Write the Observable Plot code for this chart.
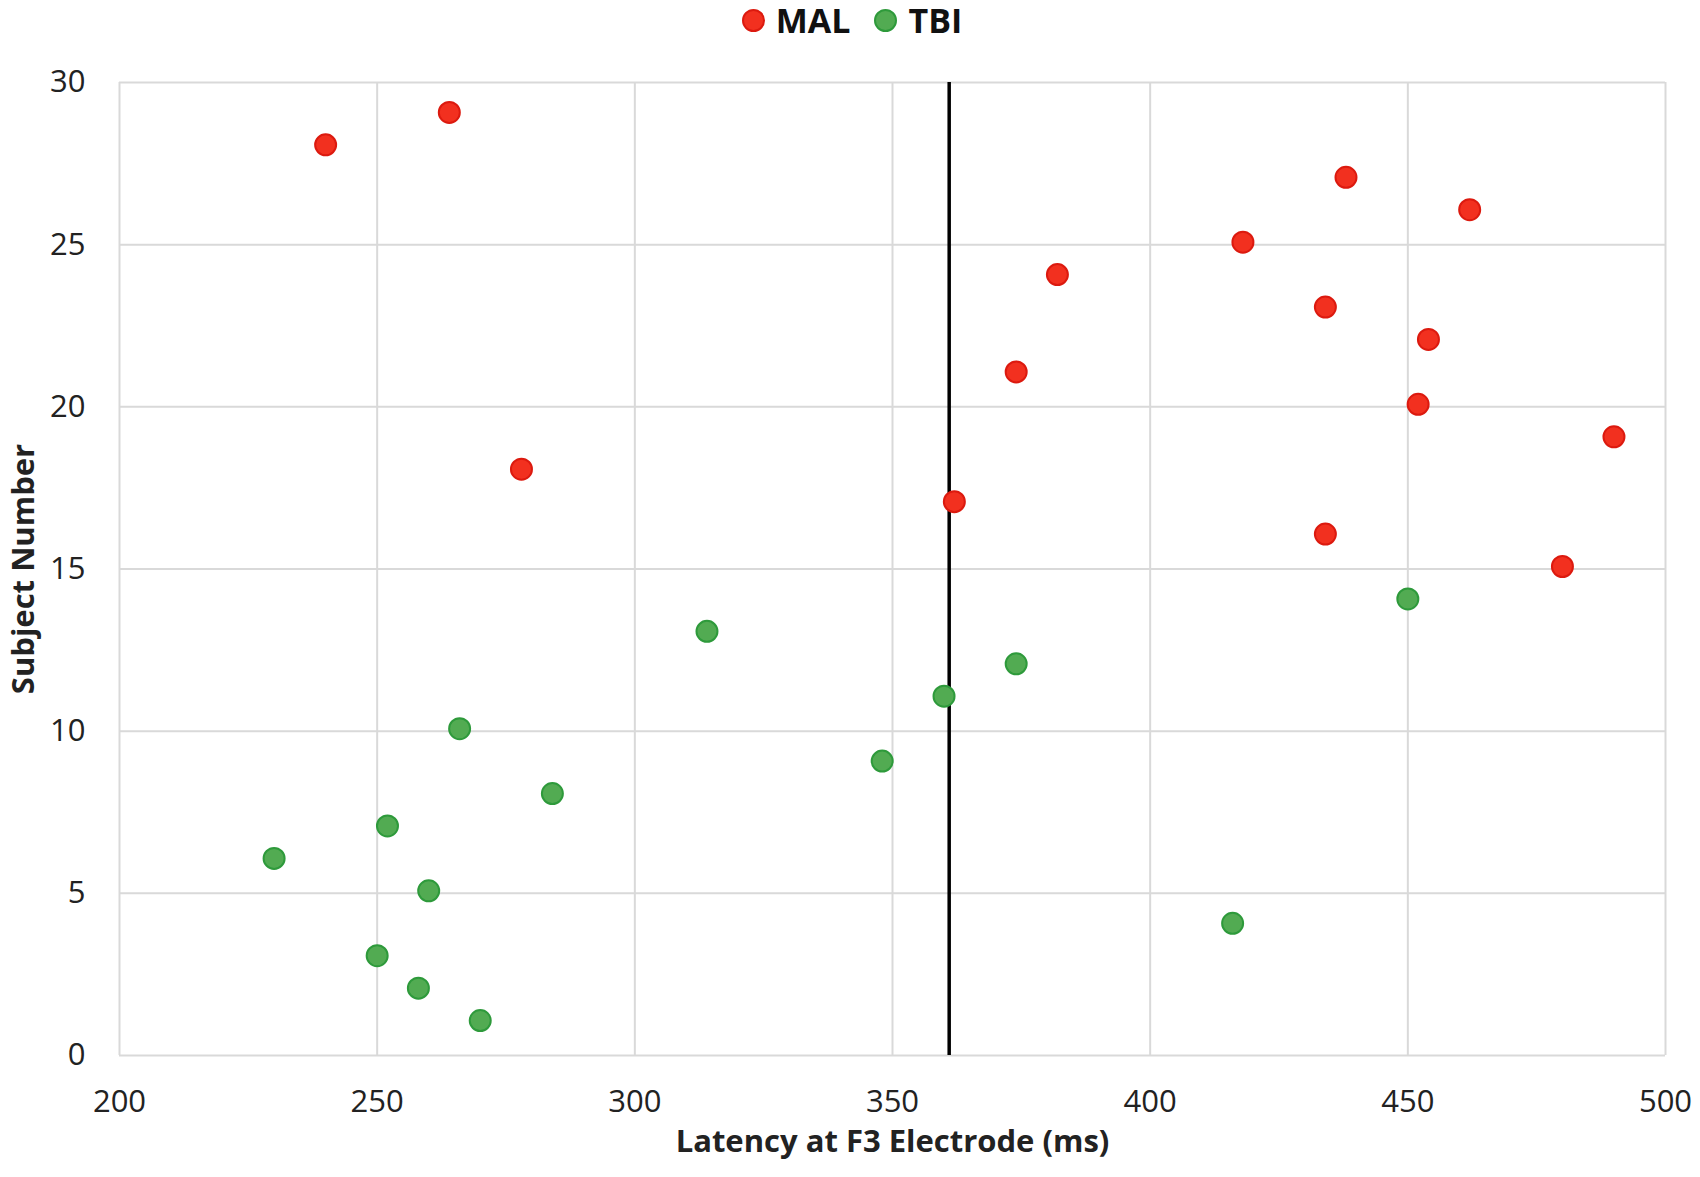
<!DOCTYPE html>
<html>
<head>
<meta charset="utf-8">
<script src="https://cdn.jsdelivr.net/npm/d3@7"></script>
<script src="https://cdn.jsdelivr.net/npm/@observablehq/plot@0.6"></script>
<style>
  body { margin: 0; background: #fff; font-family: "Open Sans", sans-serif; }
  #legend { height: 40px; display: flex; justify-content: center; align-items: center; font-weight: bold; font-size: 34px; color: #111; padding-left: 4px; box-sizing: border-box; }
  .item { display: flex; align-items: center; }
  .item + .item { margin-left: 24px; }
  .sw { width: 19px; height: 19px; border-radius: 50%; border: 2px solid; margin-right: 11px; }
  #chart svg { display: block; }
</style>
</head>
<body>
<div id="legend"></div>
<div id="chart"></div>
<script>
// Data
const malSubject = [15, 16, 17, 18, 19, 20, 21, 22, 23, 24, 25, 26, 27, 28, 29];
const malLatency = [480, 434, 362, 278, 490, 452, 374, 454, 434, 382, 418, 462, 438, 240, 264];
const tbiSubject = [1, 2, 3, 4, 5, 6, 7, 8, 9, 10, 11, 12, 13, 14];
const tbiLatency = [270, 258, 250, 416, 260, 230, 252, 284, 348, 266, 360, 374, 314, 450];
const threshold = [361];
const xTicks = [200, 250, 300, 350, 400, 450, 500];
const yTicks = [0, 5, 10, 15, 20, 25, 30];
const groups = ["MAL", "TBI"];
const fills = ["#f2301f", "#52ab52"];
const strokes = ["#dc1a0f", "#2e9a3b"];
const xLabel = "Latency at F3 Electrode (ms)";
const yLabel = "Subject Number";

const mal = malSubject.map((s, i) => ({subject: s, latency: malLatency[i]}));
const tbi = tbiSubject.map((s, i) => ({subject: s, latency: tbiLatency[i]}));

// Legend
const legend = document.getElementById("legend");
groups.forEach((g, i) => {
  const item = document.createElement("div");
  item.className = "item";
  const sw = document.createElement("span");
  sw.className = "sw";
  sw.style.background = fills[i];
  sw.style.borderColor = strokes[i];
  const t = document.createElement("span");
  t.textContent = g;
  item.appendChild(sw);
  item.appendChild(t);
  legend.appendChild(item);
});

const grid = {stroke: "#d9d9d9", strokeOpacity: 1, strokeWidth: 2};

const chart = Plot.plot({
  width: 1700,
  height: 1137,
  marginTop: 42,
  marginBottom: 122,
  marginLeft: 119,
  marginRight: 35,
  style: {fontFamily: "'Open Sans', sans-serif", fontSize: "31px", color: "#222", background: "#fff"},
  x: {domain: [200, 500]},
  y: {domain: [0, 30]},
  marks: [
    Plot.gridX(xTicks, grid),
    Plot.gridY(yTicks, grid),
    Plot.axisX(xTicks, {tickSize: 0, tickPadding: 34, label: null, fontSize: 31}),
    Plot.axisY(yTicks, {tickSize: 0, tickPadding: 34, label: null, fontSize: 31}),
    Plot.ruleX(threshold, {stroke: "#000", strokeWidth: 3.5}),
    Plot.dot(tbi, {x: "latency", y: "subject", dy: -2.5, r: 10.5, fill: fills[1], stroke: strokes[1], strokeWidth: 2}),
    Plot.dot(mal, {x: "latency", y: "subject", dy: -2.5, r: 10.5, fill: fills[0], stroke: strokes[0], strokeWidth: 2}),
    Plot.text([xLabel], {frameAnchor: "bottom", dy: 87, lineAnchor: "middle", textAnchor: "middle", fontWeight: "bold", fontSize: 31, fill: "#222"}),
    Plot.text([yLabel], {frameAnchor: "left", dx: -95, rotate: -90, lineAnchor: "middle", textAnchor: "middle", fontWeight: "bold", fontSize: 31, fill: "#222"})
  ]
});
document.getElementById("chart").appendChild(chart);
</script>
</body>
</html>
